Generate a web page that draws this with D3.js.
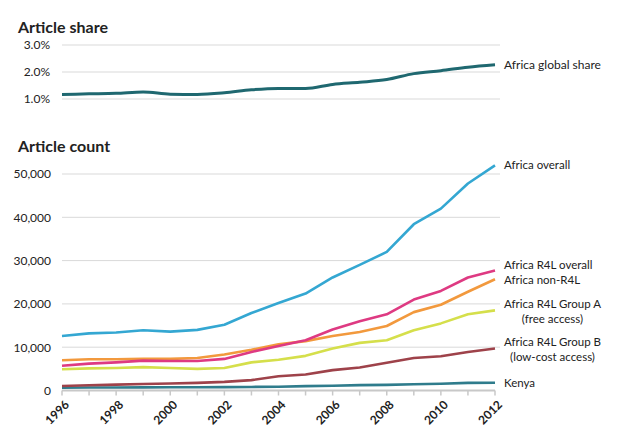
<!DOCTYPE html>
<html>
<head>
<meta charset="utf-8">
<script src="https://cdn.jsdelivr.net/npm/d3@7"></script>
<style>
  body { margin:0; background:#fff; }
  text { font-family: Lato, "Open Sans", sans-serif; fill:#222; }
</style>
</head>
<body>
<div id="chart"></div>
<script>
// years on the x axis
var years=[1996,1997,1998,1999,2000,2001,2002,2003,2004,2005,2006,2007,2008,2009,2010,2011,2012];

// article share of Africa (%)
var globalShare=[1.17,1.19,1.21,1.26,1.18,1.17,1.23,1.34,1.39,1.39,1.54,1.62,1.72,1.94,2.05,2.18,2.27];

// article counts
var africaOverall=[12600,13200,13400,13900,13600,14000,15200,17900,20200,22400,26100,29000,32000,38400,42000,47800,52000];
var r4lOverall   =[5700,6200,6500,6900,6800,6800,7300,8900,10300,11600,14100,16000,17600,21000,23000,26100,27700];
var nonR4L       =[7000,7200,7200,7300,7300,7500,8300,9400,10700,11400,12600,13500,14900,18100,19800,22800,25700];
var groupA       =[4900,5100,5200,5400,5200,5000,5200,6500,7100,8000,9700,11000,11600,13900,15500,17600,18500];
var groupB       =[1050,1200,1350,1500,1600,1750,2000,2400,3300,3700,4700,5300,6400,7500,7900,8900,9700];
var kenya        =[650,680,700,720,740,760,780,820,880,1000,1100,1250,1300,1450,1550,1750,1800];

var shareTicks=[1,2,3];
var countTicks=[0,10000,20000,30000,40000,50000];
var yearLabels=[1996,1998,2000,2002,2004,2006,2008,2010,2012];

var series=[
  {name:["Africa overall"],values:africaOverall,color:"#34a7d2"},
  {name:["Africa R4L overall"],values:r4lOverall,color:"#de3a82"},
  {name:["Africa non-R4L"],values:nonR4L,color:"#f2993d"},
  {name:["Africa R4L Group A","(free access)"],values:groupA,color:"#d5df4b"},
  {name:["Africa R4L Group B","(low-cost access)"],values:groupB,color:"#9e424a"},
  {name:["Kenya"],values:kenya,color:"#2f7c8c"}
];
// label anchor y (first line), in data units of the count chart
var labelAt=[52000,28960,25620,20000,11300,1800];

var width=626, height=444;
var svg=d3.select("#chart").append("svg").attr("width",width).attr("height",height);

var x=d3.scaleLinear().domain([1996,2012]).range([62,495]);
var yShare=d3.scaleLinear().domain([1,3]).range([99,45]);
var yCount=d3.scaleLinear().domain([0,50000]).range([390.5,174]);

// ---- top panel : article share
svg.append("text").attr("x",18).attr("y",33)
   .attr("font-size",16).attr("font-weight","bold").text("Article share");

svg.append("g").selectAll("line").data(shareTicks).join("line")
   .attr("x1",62).attr("x2",500)
   .attr("y1",d=>yShare(d)).attr("y2",d=>yShare(d))
   .attr("stroke","#d9d9d9").attr("stroke-width",1);

svg.append("g").selectAll("text").data(shareTicks).join("text")
   .attr("x",50).attr("y",d=>yShare(d)).attr("dy","0.36em")
   .attr("text-anchor","end").attr("font-size",12)
   .text(d=>d3.format(".1f")(d)+"%");

var shareLine=d3.line().x((d,i)=>x(years[i])).y(d=>yShare(d)).curve(d3.curveMonotoneX);
svg.append("path").attr("d",shareLine(globalShare))
   .attr("fill","none").attr("stroke","#1f6870").attr("stroke-width",3);
svg.append("text").attr("x",504).attr("y",yShare(globalShare[globalShare.length-1]))
   .attr("dy","0.36em").attr("font-size",12).text("Africa global share");

// ---- bottom panel : article count
svg.append("text").attr("x",18).attr("y",152)
   .attr("font-size",16).attr("font-weight","bold").text("Article count");

svg.append("g").selectAll("line").data(countTicks.slice(1)).join("line")
   .attr("x1",62).attr("x2",500)
   .attr("y1",d=>yCount(d)).attr("y2",d=>yCount(d))
   .attr("stroke","#d9d9d9").attr("stroke-width",1);

svg.append("g").selectAll("text").data(countTicks).join("text")
   .attr("x",51).attr("y",d=>yCount(d)).attr("dy","0.36em")
   .attr("text-anchor","end").attr("font-size",12)
   .text(d=>d3.format(",")(d));

// x axis
var xAxis=svg.append("g").attr("transform","translate(0,"+yCount(0)+")");
xAxis.append("line").attr("x1",62).attr("x2",495)
   .attr("stroke","#c8c8c8").attr("stroke-width",2);
xAxis.selectAll("line.tick").data(years).join("line").attr("class","tick")
   .attr("x1",d=>x(d)).attr("x2",d=>x(d)).attr("y1",0).attr("y2",5)
   .attr("stroke","#c8c8c8").attr("stroke-width",1.5);
xAxis.selectAll("text").data(yearLabels).join("text")
   .attr("transform",d=>"translate("+(x(d)+5)+",12) rotate(-45)")
   .attr("text-anchor","end").attr("font-size",12).attr("font-weight","bold")
   .attr("dy","0.35em")
   .text(d=>d);

var countLine=d3.line().x((d,i)=>x(years[i])).y(d=>yCount(d));
svg.append("g").selectAll("path").data(series.slice().reverse()).join("path")
   .attr("d",d=>countLine(d.values))
   .attr("fill","none").attr("stroke",d=>d.color).attr("stroke-width",2.6)
   .attr("stroke-linejoin","round");

// series labels
series.forEach(function(s,i){
  var g=svg.append("g").attr("transform","translate(504,"+yCount(labelAt[i])+")");
  var t=g.append("text").attr("font-size",11.5).attr("dy","0.36em").text(s.name[0]);
  if (s.name.length>1){
    var w=t.node().getComputedTextLength();
    g.append("text").attr("font-size",11.5).attr("x",w/2).attr("y",15)
     .attr("dy","0.36em").attr("text-anchor","middle").text(s.name[1]);
  }
});
</script>
</body>
</html>
